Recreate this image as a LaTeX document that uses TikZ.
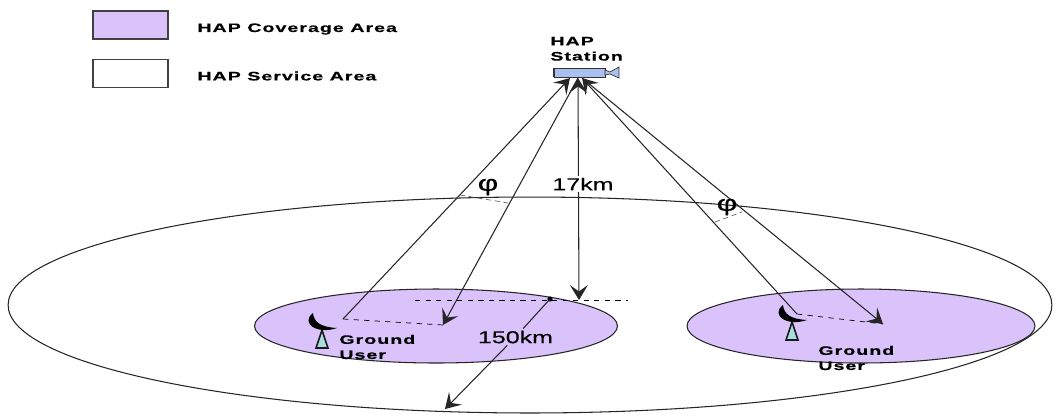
\documentclass[tikz,border=0pt]{standalone}
\usepackage{fontspec}
\setmainfont{Liberation Sans}
\newfontfamily\boldlabel[FakeStretch=1.6,LetterSpace=8,FakeBold=0.4]{Liberation Sans Bold}
\newfontfamily\plainlabel[FakeStretch=1.45,FakeBold=0.3]{Liberation Sans}
\usetikzlibrary{arrows.meta,positioning,shapes.geometric}
\definecolor{coverage}{RGB}{217,195,250}
\definecolor{lens}{RGB}{170,192,240}
\definecolor{mast}{RGB}{170,220,222}
\tikzset{
  zone/.style={draw=black!85, semithick, ellipse, inner sep=0pt, fill=coverage},
  swatch/.style={draw=black!75, semithick, minimum width=1.5cm, minimum height=0.56cm, inner sep=0pt},
  tag/.style={font=\boldlabel\fontsize{7}{8.6}\selectfont, align=left, inner sep=0pt},
  dist/.style={font=\plainlabel\fontsize{9.8}{11}\selectfont, inner sep=0pt},
  barb/.tip={Stealth[length=3mm,width=3.6mm,inset=1.3mm]},
  link/.style={-barb, black!85, semithick},
  dashlink/.style={black, thin, dashed},
}
\begin{document}
\begin{tikzpicture}[x=0.02cm,y=-0.02cm]
    \useasboundingbox (0,0) rectangle (1062,414);
    % zones
    \node[zone, fill=white, minimum width=20.88cm, minimum height=4.32cm] (service) at (530,305) {};
    \node[zone, minimum width=7.26cm, minimum height=1.48cm] (coverL) at (436,326) {};
    \node[zone, minimum width=6.96cm, minimum height=1.48cm] (coverR) at (861,326) {};
    % legend
    \node[swatch, fill=coverage] (keyCover) at (130.5,25) {};
    \node[swatch, fill=white] (keyService) at (130.5,73.5) {};
    \node[tag, anchor=west] (keyCoverText) at (197,29) {HAP Coverage Area};
    \node[tag, anchor=west] (keyServiceText) at (197,76) {HAP Service Area};
    % station
    \node[draw=black!80, fill=lens, minimum width=1.02cm, minimum height=0.18cm, inner sep=0pt] (station) at (579.5,72.5) {};
    \draw[black!80, fill=lens] (605,70) -- (610,72) -- (619,67) -- (619,78) -- (610,74) -- (605,75) -- cycle;
    \draw[black!80] (553,68) -- (553,77);
    \node[tag, anchor=south west] (stationText) at (550,61) {HAP\\Station};
    % ground users
    \foreach \x/\y in {322/330, 792/322} {
      \draw[black!90, fill=mast, line width=0.9pt] (\x-6,\y+18) -- (\x,\y) -- (\x+6,\y+18) -- cycle;
      \fill[black] (\x-9,\y-17) .. controls (\x-22,\y-7) and (\x-5,\y+5) .. (\x+15,\y-2)
        .. controls (\x-2,\y-3) and (\x-8,\y-8) .. (\x-9,\y-17);
    }
    \node[tag, anchor=west] (userL) at (339,347) {Ground\\User};
    \node[tag, anchor=west] (userR) at (818,358) {Ground\\User};
    % connector ends
    \coordinate (dishL) at (343,319);
    \coordinate (dishR) at (797,314);
    \coordinate (hitL) at (443,325);
    \coordinate (hitR) at (883,324);
    \coordinate (stA) at (570,78);
    \coordinate (stB) at (578,78);
    \coordinate (stC) at (582,78);
    \coordinate (foot) at (579,300);
    \coordinate (rimNear) at (550,299);
    \coordinate (rimFar) at (445,409);
    \coordinate (levelA) at (415,300);
    \coordinate (levelB) at (628,300);
    % links
    \draw[link] (dishL) -- (stA);
    \draw[link] (stB) -- (hitL);
    \draw[link, barb-barb] (stB) -- (foot);
    \draw[link] (dishR) -- (stC);
    \draw[link] (stC) -- (hitR);
    \draw[dashlink] (dishL) -- (hitL);
    \draw[dashlink] (dishR) -- (hitR);
    \draw[dashlink] (levelA) -- (levelB);
    % radius
    \fill (rimNear) circle (2.6);
    \node[dist, inner sep=1pt] (radius) at (515.5,337) {150km};
    \node[dist, fill=white, inner sep=1pt] (height) at (583,184) {17km};
    \draw[black!85, semithick] (rimNear) -- (radius);
    \draw[link] (radius) -- (rimFar);
    % angles
    \draw[black!60, thin, densely dashed] (460,195) -- (508,203);
    \draw[black!60, thin, densely dashed] (715,222) -- (742,212);
    \node[dist, font=\plainlabel\fontsize{12.5}{13}\selectfont] (phiL) at (488,187) {φ};
    \node[dist, font=\plainlabel\fontsize{12.5}{13}\selectfont] (phiR) at (727,207) {φ};
\end{tikzpicture}
\end{document}
